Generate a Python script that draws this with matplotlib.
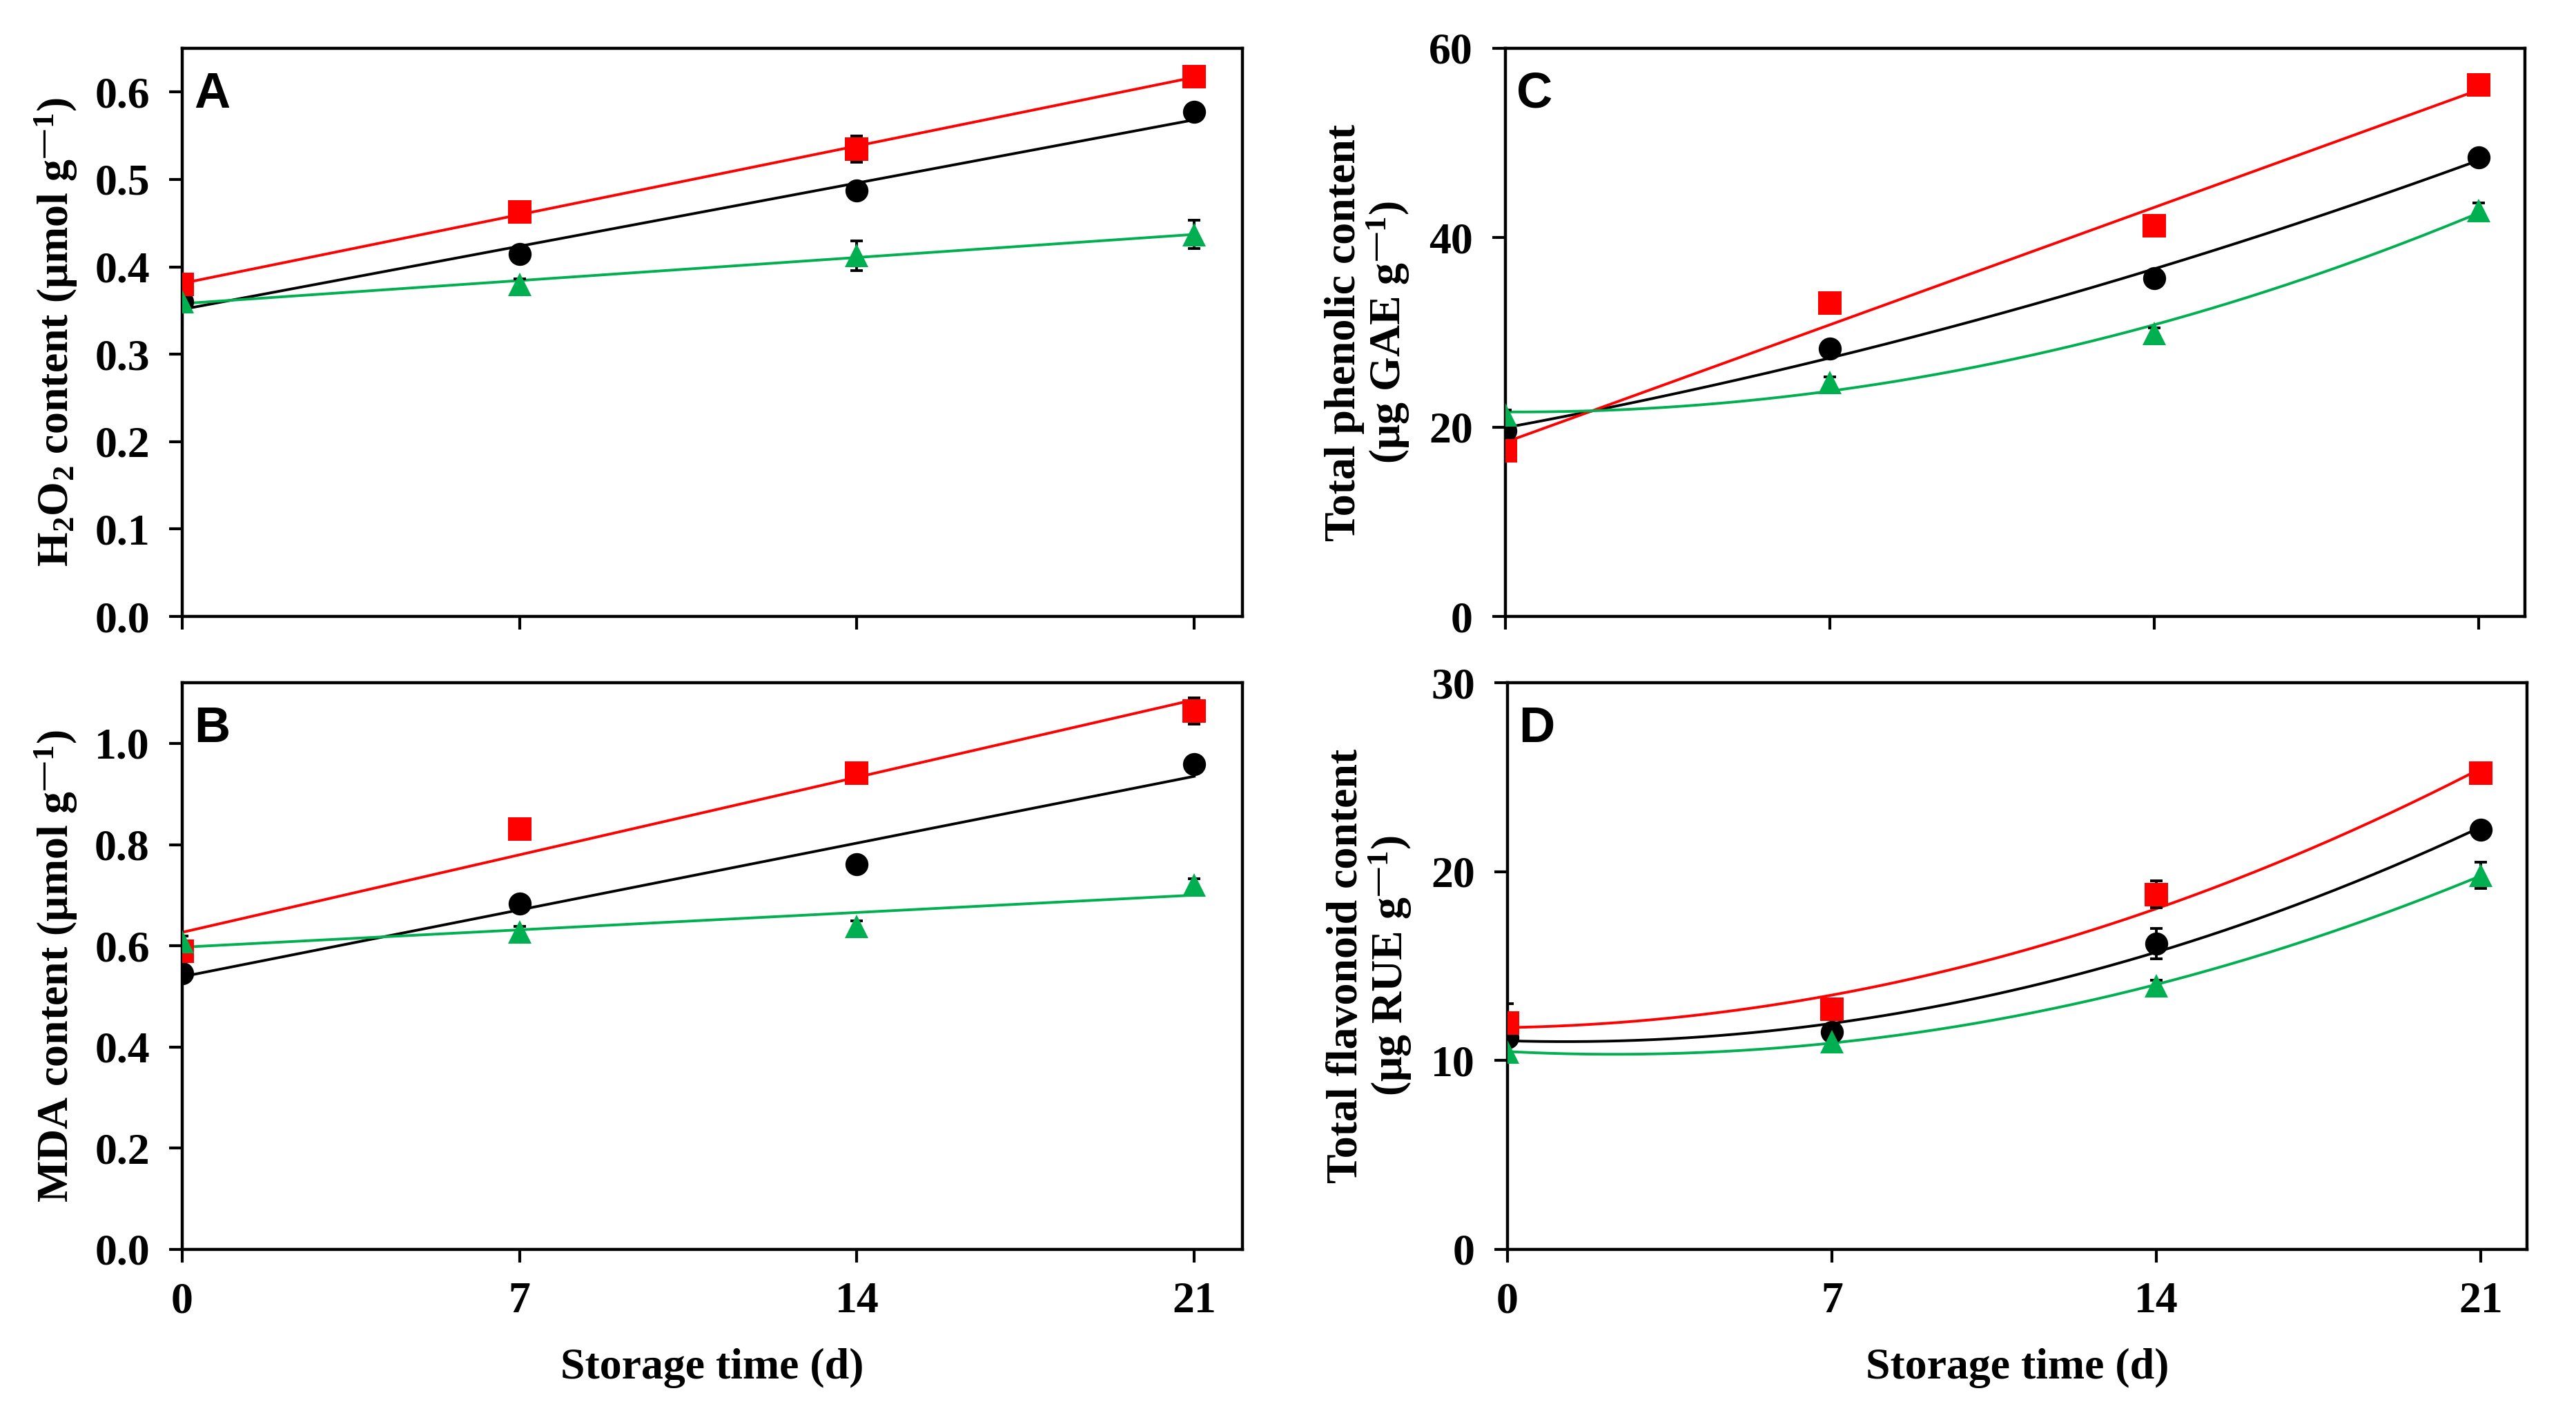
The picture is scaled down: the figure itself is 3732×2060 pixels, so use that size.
import numpy as np
import matplotlib
matplotlib.use("Agg")
import matplotlib.pyplot as plt

plt.rcParams['font.family'] = ['Liberation Serif', 'DejaVu Serif']
plt.rcParams['font.weight'] = 'bold'
plt.rcParams['mathtext.default'] = 'regular'

days = [0, 7, 14, 21]
xticks = [0, 7, 14, 21]

# Panel A: H2O2 content
a_black = [0.360, 0.415, 0.487, 0.577]
a_red = [0.380, 0.463, 0.535, 0.618]
a_green = [0.360, 0.380, 0.413, 0.437]
a_black_err = [0.006, 0.006, 0.008, 0.008]
a_red_err = [0.010, 0.006, 0.015, 0.006]
a_green_err = [0.006, 0.006, 0.017, 0.016]

# Panel B: MDA content
b_black = [0.545, 0.683, 0.761, 0.959]
b_red = [0.590, 0.831, 0.941, 1.064]
b_green = [0.609, 0.628, 0.638, 0.720]
b_black_err = [0.010, 0.010, 0.015, 0.010]
b_red_err = [0.010, 0.010, 0.010, 0.026]
b_green_err = [0.010, 0.010, 0.012, 0.012]

# Panel C: total phenolic content
c_black = [19.6, 28.3, 35.7, 48.5]
c_red = [17.5, 33.1, 41.3, 56.1]
c_green = [21.3, 24.7, 29.9, 42.9]
c_black_err = [0.5, 0.5, 0.8, 0.5]
c_red_err = [0.5, 0.5, 0.5, 0.5]
c_green_err = [0.5, 0.6, 0.6, 0.8]

# Panel D: total flavonoid content
d_black = [11.2, 11.5, 16.2, 22.2]
d_red = [12.0, 12.7, 18.8, 25.2]
d_green = [10.45, 11.0, 13.95, 19.8]
d_black_err = [0.4, 0.4, 0.8, 0.3]
d_red_err = [1.0, 0.4, 0.7, 0.5]
d_green_err = [0.3, 0.3, 0.3, 0.7]

COL_BLACK = '#000000'
COL_RED = '#FF0000'
COL_GREEN = '#00B050'

fig = plt.figure(figsize=(18.66, 10.3), dpi=200)

W, H = 3732.0, 2060.0
def rect(l, r, t, b):
    return [l / W, 1 - b / H, (r - l) / W, (b - t) / H]

axA = fig.add_axes(rect(264, 1800, 70, 893))
axB = fig.add_axes(rect(264, 1800, 989, 1810))
axC = fig.add_axes(rect(2181, 3658, 70, 893))
axD = fig.add_axes(rect(2184, 3661, 989, 1810))

panels = [
    (axA, 'A', (a_black, a_red, a_green), (a_black_err, a_red_err, a_green_err),
     (1, 1, 1), (0, 0.65), np.arange(0, 0.61, 0.1), '{:.1f}',
     'H$_2$O$_2$ content (μmol g$^{—1}$)', False, -0.097),
    (axB, 'B', (b_black, b_red, b_green), (b_black_err, b_red_err, b_green_err),
     (1, 1, 1), (0, 1.12), np.arange(0, 1.01, 0.2), '{:.1f}',
     'MDA content (μmol g$^{—1}$)', True, -0.097),
    (axC, 'C', (c_black, c_red, c_green), (c_black_err, c_red_err, c_green_err),
     (2, 1, 2), (0, 60), [0, 20, 40, 60], '{:d}',
     'Total phenolic content\n(μg GAE g$^{—1}$)', False, -0.092),
    (axD, 'D', (d_black, d_red, d_green), (d_black_err, d_red_err, d_green_err),
     (2, 2, 2), (0, 30), [0, 10, 20, 30], '{:d}',
     'Total flavonoid content\n(μg RUE g$^{—1}$)', True, -0.092),
]

markers = ['o', 's', '^']
colors = [COL_BLACK, COL_RED, COL_GREEN]
xs = np.linspace(0, 21, 300)

for ax, letter, series, errs, degs, ylim, yt, fmt, ylab, showx, ylx in panels:
    for vals, err, deg, mk, col in zip(series, errs, degs, markers, colors):
        coef = np.polyfit(days, vals, deg)
        ax.plot(xs, np.polyval(coef, xs), color=col, lw=1.4, zorder=2)
        ax.errorbar(days, vals, yerr=err, fmt='none', ecolor='black',
                    elinewidth=1.4, capsize=3.4, capthick=1.4, zorder=3)
        ax.plot(days, vals, linestyle='none', marker=mk, color=col,
                markersize=12, markeredgewidth=0, zorder=4)
    ax.set_xlim(0, 22)
    ax.set_ylim(*ylim)
    ax.set_xticks(xticks)
    ax.set_yticks(yt)
    if fmt == '{:d}':
        ax.set_yticklabels([fmt.format(int(v)) for v in yt])
    else:
        ax.set_yticklabels([fmt.format(v) for v in yt])
    if showx:
        ax.set_xticklabels([str(v) for v in xticks])
        ax.set_xlabel('Storage time (d)', fontsize=23, fontweight='bold')
        ax.xaxis.set_label_coords(0.5, -0.174)
    else:
        ax.set_xticklabels([])
    ax.tick_params(axis='both', direction='out', length=7, width=1.5,
                   labelsize=23, pad=10)
    ax.tick_params(axis='x', top=False)
    ax.tick_params(axis='y', right=False)
    for s in ax.spines.values():
        s.set_linewidth(1.6)
    ax.set_ylabel(ylab, fontsize=23, fontweight='bold', linespacing=1.0)
    ax.yaxis.set_label_coords(ylx, 0.5)
    ax.text(0.011, 0.96, letter, transform=ax.transAxes, ha='left', va='top',
            fontsize=26, fontweight='bold', family=['Liberation Sans', 'DejaVu Sans'])

fig.savefig('out.png', dpi=200)
